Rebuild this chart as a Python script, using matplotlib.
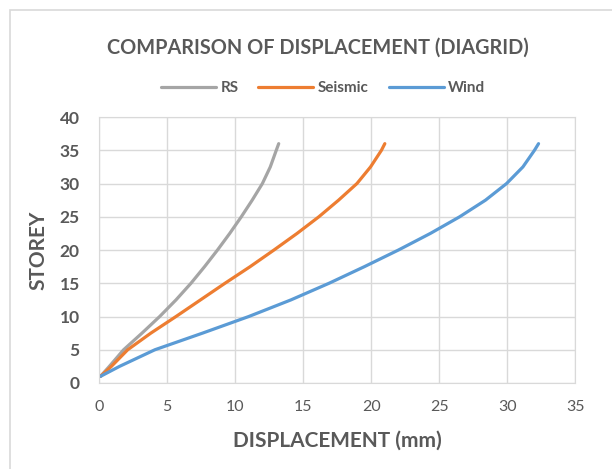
import matplotlib.pyplot as plt
from matplotlib.patches import Rectangle

# storey levels and displacement (mm)
storey = [1, 2.5, 5, 7.5, 10, 12.5, 15, 17.5, 20, 22.5, 25, 27.5, 30, 32.5, 35, 36]
rs = [0.1, 0.75, 1.8, 3.15, 4.45, 5.65, 6.75, 7.75, 8.7, 9.6, 10.45, 11.25, 12.0, 12.58, 13.02, 13.2]
seismic = [0.1, 0.9, 2.1, 3.8, 5.65, 7.45, 9.25, 11.1, 12.85, 14.55, 16.15, 17.6, 18.95, 19.95, 20.75, 21.0]
wind = [0.1, 1.5, 4.1, 7.6, 11.0, 14.1, 16.9, 19.5, 22.0, 24.35, 26.5, 28.4, 29.95, 31.15, 32.0, 32.3]

plt.rcParams['font.family'] = ['Lato', 'DejaVu Sans']

txt = '#595959'
grid = '#d9d9d9'

fig = plt.figure(figsize=(6.12, 4.69), dpi=100)
ax = fig.add_axes([0.162, 0.1834, 0.778, 0.567])

# chart frame
fig.patches.append(Rectangle((10 / 612, -0.1), 1.2, 1 - 10 / 469 + 0.1,
                             transform=fig.transFigure, fill=False,
                             edgecolor=grid, lw=1.2))

for xs, name, col in [(rs, 'RS', '#A5A5A5'), (seismic, 'Seismic', '#ED7D31'),
                      (wind, 'Wind', '#5B9BD5')]:
    ax.plot(xs, storey, color=col, lw=2.3, label=name,
            solid_capstyle='round', solid_joinstyle='round')

ax.set_xlim(0, 35)
ax.set_ylim(0, 40)
ax.set_xticks(range(0, 36, 5))
ax.set_yticks(range(0, 41, 5))
ax.grid(True, color=grid, lw=1)
ax.set_axisbelow(True)
for s in ax.spines.values():
    s.set_color(grid)
ax.tick_params(axis='x', length=0, labelsize=11.5, colors=txt, pad=12)
ax.tick_params(axis='y', length=0, labelsize=12.5, colors=txt, pad=14)
for lab in ax.get_yticklabels():
    lab.set_fontweight('bold')

ax.set_xlabel('DISPLACEMENT (mm)', fontsize=15, color=txt, fontweight='bold', labelpad=12)
ax.set_ylabel('STOREY', fontsize=15, color=txt, fontweight='bold', labelpad=8)

fig.text(0.52, 0.898, 'COMPARISON OF DISPLACEMENT (DIAGRID)', ha='center', va='center',
         fontsize=14.3, color=txt, fontweight='bold')
fig.legend(loc='center', bbox_to_anchor=(0.528, 0.812), ncol=3, frameon=False,
           labelcolor=txt, handlelength=3.6, handletextpad=0.3,
           columnspacing=1.3, prop={'weight': 'bold', 'size': 11})

fig.savefig('out.png', dpi=100)
